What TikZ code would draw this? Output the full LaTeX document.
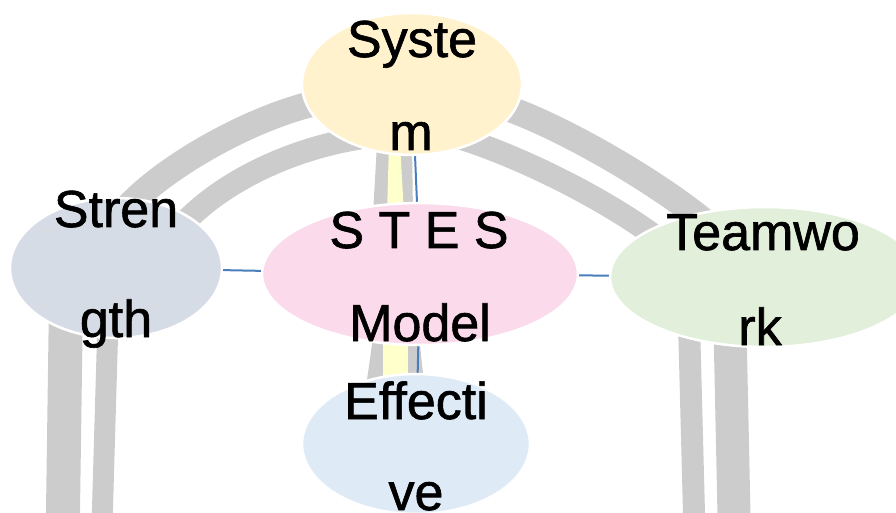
\documentclass[tikz,border=0pt]{standalone}
\usepackage{fontspec}
\setmainfont{Liberation Sans}
\newfontfamily\lblfont[FakeBold=1.2]{Liberation Sans}
\usetikzlibrary{shapes.geometric,calc}

\definecolor{sysfill}{HTML}{FFF2CC}
\definecolor{strfill}{HTML}{D6DCE5}
\definecolor{stesfill}{HTML}{FADAEB}
\definecolor{teamfill}{HTML}{E2EFDA}
\definecolor{efffill}{HTML}{DEEBF7}
\definecolor{bandgray}{HTML}{CCCCCC}
\definecolor{bandyellow}{HTML}{FFFFCC}
\definecolor{linkblue}{HTML}{4A7EBB}

\tikzset{
  blob/.style={ellipse, fill=#1, draw=white, line width=1.9pt, inner sep=0pt},
  lbl/.style={anchor=base, inner sep=0pt, font=\lblfont\fontsize{39}{40}\selectfont, text=black},
  band/.style={draw=bandgray, line width=#1, line cap=butt},
  link/.style={draw=linkblue, line width=1.5pt},
}

\begin{document}
\begin{tikzpicture}[x=0.75pt,y=-0.75pt]
\path[use as bounding box] (0,0) rectangle (896,513);
\clip (0,0) rectangle (896,513);

% centres of the five ellipses
\coordinate (cSys)  at (412,84);
\coordinate (cStr)  at (116,268);
\coordinate (cStes) at (420,274);
\coordinate (cTeam) at (765,277);
\coordinate (cEff)  at (416,444);

% loose ends of the downward bands
\coordinate (l1end) at (62.8,525);
\coordinate (l2end) at (102,525);
\coordinate (r1end) at (694.3,525);
\coordinate (r2end) at (734.2,525);

% grey arcs: Strength -- System
\draw[band=19.5pt] ($(cStr)+(9,-58)$) .. controls +(40,-45) and +(-70,12) .. ($(cSys)+(-82,16)$);
\draw[band=17.25pt] ($(cStr)+(69,-46)$) .. controls +(35,-37) and +(-75,12) .. ($(cSys)+(-52,54)$);
% grey arcs: System -- Teamwork
\draw[band=19.5pt] ($(cSys)+(83,20)$) .. controls +(65,20) and +(-45,-40) .. ($(cTeam)+(-53,-49)$);
\draw[band=17.25pt] ($(cSys)+(38,51)$) .. controls +(60,17) and +(-60,-45) .. ($(cTeam)+(-105,-37)$);
% grey bands running down from Strength and Teamwork
\draw[band=25.5pt] ($(cStr)+(-50,32)$) -- (l1end);
\draw[band=15.75pt] ($(cStr)+(-8,52)$) -- (l2end);
\draw[band=16.5pt] ($(cTeam)+(-76,45)$) -- (r1end);
\draw[band=24.75pt] ($(cTeam)+(-35,50)$) -- (r2end);

% System -- S T E S Model: grey band with yellow core
\fill[bandgray] ($(cSys)+(-35,60)$) -- ($(cSys)+(0,60)$) -- ($(cStes)+(-7,-60)$) -- ($(cStes)+(-47,-60)$) -- cycle;
\fill[bandyellow] ($(cSys)+(-23,60)$) -- ($(cSys)+(-12,60)$) -- ($(cStes)+(-16,-60)$) -- ($(cStes)+(-33,-60)$) -- cycle;
% S T E S Model -- Effective: grey band with yellow core
\fill[bandgray] ($(cStes)+(-46,56)$) -- ($(cStes)+(-1.6,56)$) -- ($(cEff)+(8.8,-54)$) -- ($(cEff)+(-50.4,-54)$) -- cycle;
\fill[bandyellow] ($(cStes)+(-37,56)$) -- ($(cStes)+(-12,56)$) -- ($(cEff)+(-8,-54)$) -- ($(cEff)+(-33,-54)$) -- cycle;

% ellipses
\node[blob=sysfill,  minimum width=165pt,   minimum height=106.5pt] (sys)  at (cSys)  {};
\node[blob=strfill,  minimum width=159pt,   minimum height=105pt]   (str)  at (cStr)  {};
\node[blob=stesfill, minimum width=237pt,   minimum height=106.5pt] (stes) at (cStes) {};
\node[blob=teamfill, minimum width=232.5pt, minimum height=105pt]   (team) at (cTeam) {};
\node[blob=efffill,  minimum width=171pt,   minimum height=105pt]   (eff)  at (cEff)  {};

% thin blue links from the central ellipse
\draw[link] (str) -- (stes);
\draw[link] (stes) -- (team);
\draw[link] (sys) -- (stes);
\draw[link] (stes) -- (eff);

% labels
\node[lbl] (sysA)  at (412,57)  {Syste};
\node[lbl] (sysB)  at (411,150) {m};
\node[lbl] (strA)  at (116,227) {Stren};
\node[lbl] (strB)  at (116,337) {gth};
\node[lbl] (stesA) at (419,248) {S T E S};
\node[lbl] (stesB) at (420,341) {Model};
\node[lbl] (teamA) at (763,250) {Teamwo};
\node[lbl] (teamB) at (760,345) {rk};
\node[lbl] (effA)  at (416,419) {Effecti};
\node[lbl] (effB)  at (416,510) {ve};
\end{tikzpicture}
\end{document}
